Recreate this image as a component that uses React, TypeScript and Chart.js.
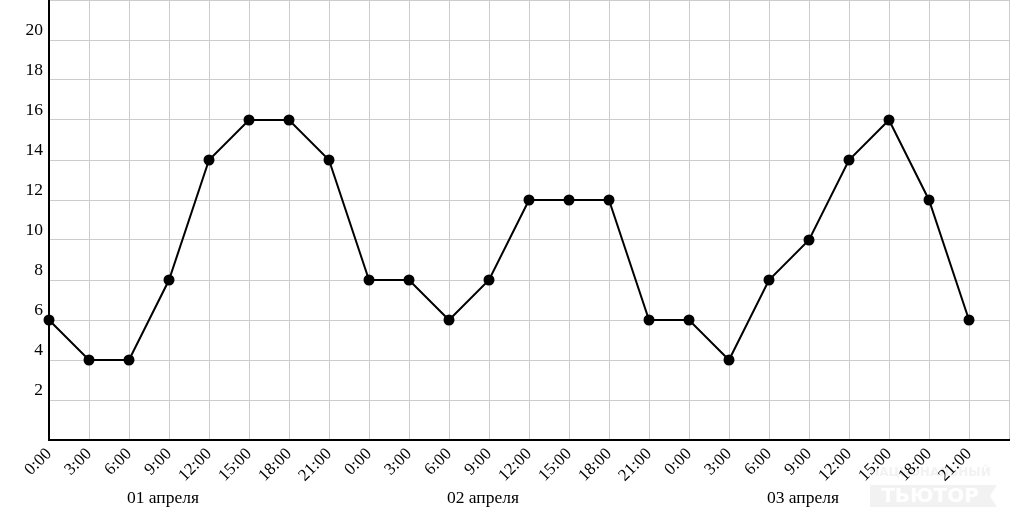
import React, { useEffect, useRef } from "react";
import { Chart, registerables } from "chart.js";

Chart.register(...registerables);

const timeLabels = ["0:00", "3:00", "6:00", "9:00", "12:00", "15:00", "18:00", "21:00"];
const dayLabels = ["01 апреля", "02 апреля", "03 апреля"];
const values = [6, 4, 4, 8, 14, 16, 16, 14, 8, 8, 6, 8, 12, 12, 12, 6, 6, 4, 8, 10, 14, 16, 12, 6];
const yTickValues = [2, 4, 6, 8, 10, 12, 14, 16, 18, 20];

const SERIF = "\"Liberation Serif\", \"DejaVu Serif\", serif";

export default function App() {
  const ref = useRef<HTMLCanvasElement | null>(null);

  useEffect(() => {
    document.body.style.margin = "0";
    const canvas = ref.current;
    if (!canvas) return;

    const points = values.map((v, i) => ({ x: i, y: v }));

    const dayPlugin = {
      id: "dayLabels",
      afterDraw(chart: any) {
        const ctx = chart.ctx;
        const xs = chart.scales.x;
        ctx.save();
        ctx.font = `17.5px ${SERIF}`;
        ctx.fillStyle = "#000";
        ctx.textAlign = "center";
        ctx.textBaseline = "middle";
        dayLabels.forEach((d, k) => {
          ctx.fillText(d, xs.getPixelForValue(2.85 + 8 * k), 498);
        });
        ctx.restore();
      },
    };

    const watermarkPlugin = {
      id: "watermark",
      beforeDraw(chart: any) {
        const ctx = chart.ctx;
        ctx.save();
        ctx.fillStyle = "#f2f2f2";
        ctx.beginPath();
        ctx.moveTo(870, 485);
        ctx.lineTo(997, 485);
        ctx.lineTo(990, 496);
        ctx.lineTo(997, 507);
        ctx.lineTo(870, 507);
        ctx.closePath();
        ctx.fill();
        ctx.fillStyle = "#ffffff";
        ctx.font = `bold 20px "DejaVu Sans", sans-serif`;
        ctx.textAlign = "center";
        ctx.textBaseline = "middle";
        ctx.fillText("ТЬЮТОР", 930, 497);
        ctx.fillStyle = "#f2f2f2";
        ctx.font = `bold 12px "DejaVu Sans", sans-serif`;
        ctx.fillText("НАЦИОНАЛЬНЫЙ", 930, 473);
        ctx.restore();
      },
    };

    let chart: Chart | null = null;
    let cancelled = false;

    const build = () => {
      if (cancelled) return;
      chart = new Chart(canvas, {
        type: "line",
        data: {
          datasets: [
            {
              data: points,
              borderColor: "#000",
              backgroundColor: "#000",
              borderWidth: 2,
              pointRadius: 4.5,
              pointBackgroundColor: "#000",
              pointBorderColor: "#000",
              tension: 0,
              clip: false as any,
            },
          ],
        },
        options: {
          responsive: false,
          maintainAspectRatio: false,
          animation: false,
          layout: { autoPadding: false, padding: { top: 0, right: 1, left: 0, bottom: 0 } },
          plugins: {
            legend: { display: false },
            tooltip: { enabled: false },
          },
          scales: {
            x: {
              type: "linear",
              min: 0,
              max: 24,
              grid: { color: "#cccccc", lineWidth: 1, drawTicks: false },
              border: { color: "#000", width: 2 },
              ticks: {
                stepSize: 1,
                autoSkip: false,
                maxRotation: 45,
                minRotation: 45,
                padding: 4,
                color: "#000",
                font: { family: SERIF, size: 17 },
                callback: (v: any) => {
                  const i = Number(v);
                  if (i >= 24) return "";
                  return timeLabels[i % 8];
                },
              },
              afterFit: (s: any) => {
                s.height = 90;
                s.paddingLeft = 0;
                s.paddingRight = 0;
              },
            },
            y: {
              type: "linear",
              min: 0,
              max: 22,
              grid: { color: "#cccccc", lineWidth: 1, drawTicks: false },
              border: { color: "#000", width: 2 },
              ticks: {
                stepSize: 1,
                padding: 6,
                labelOffset: -10,
                color: "#000",
                font: { family: SERIF, size: 17.5 },
                callback: (v: any) => (yTickValues.includes(Number(v)) ? String(v) : ""),
              },
              afterFit: (s: any) => {
                s.width = 49;
                s.paddingTop = 0;
                s.paddingBottom = 0;
              },
            },
          },
        },
        plugins: [watermarkPlugin, dayPlugin],
      });
    };

    const fontsReady = (document as any).fonts
      ? Promise.all([
          (document as any).fonts.load('16px "Liberation Serif"'),
          (document as any).fonts.load('bold 20px "DejaVu Sans"'),
        ]).catch(() => null)
      : Promise.resolve(null);
    fontsReady.then(build);

    return () => {
      cancelled = true;
      if (chart) chart.destroy();
    };
  }, []);

  return (
    <div style={{ width: 1010, height: 530 }}>
      <canvas ref={ref} width={1010} height={530} style={{ display: "block" }} />
    </div>
  );
}
